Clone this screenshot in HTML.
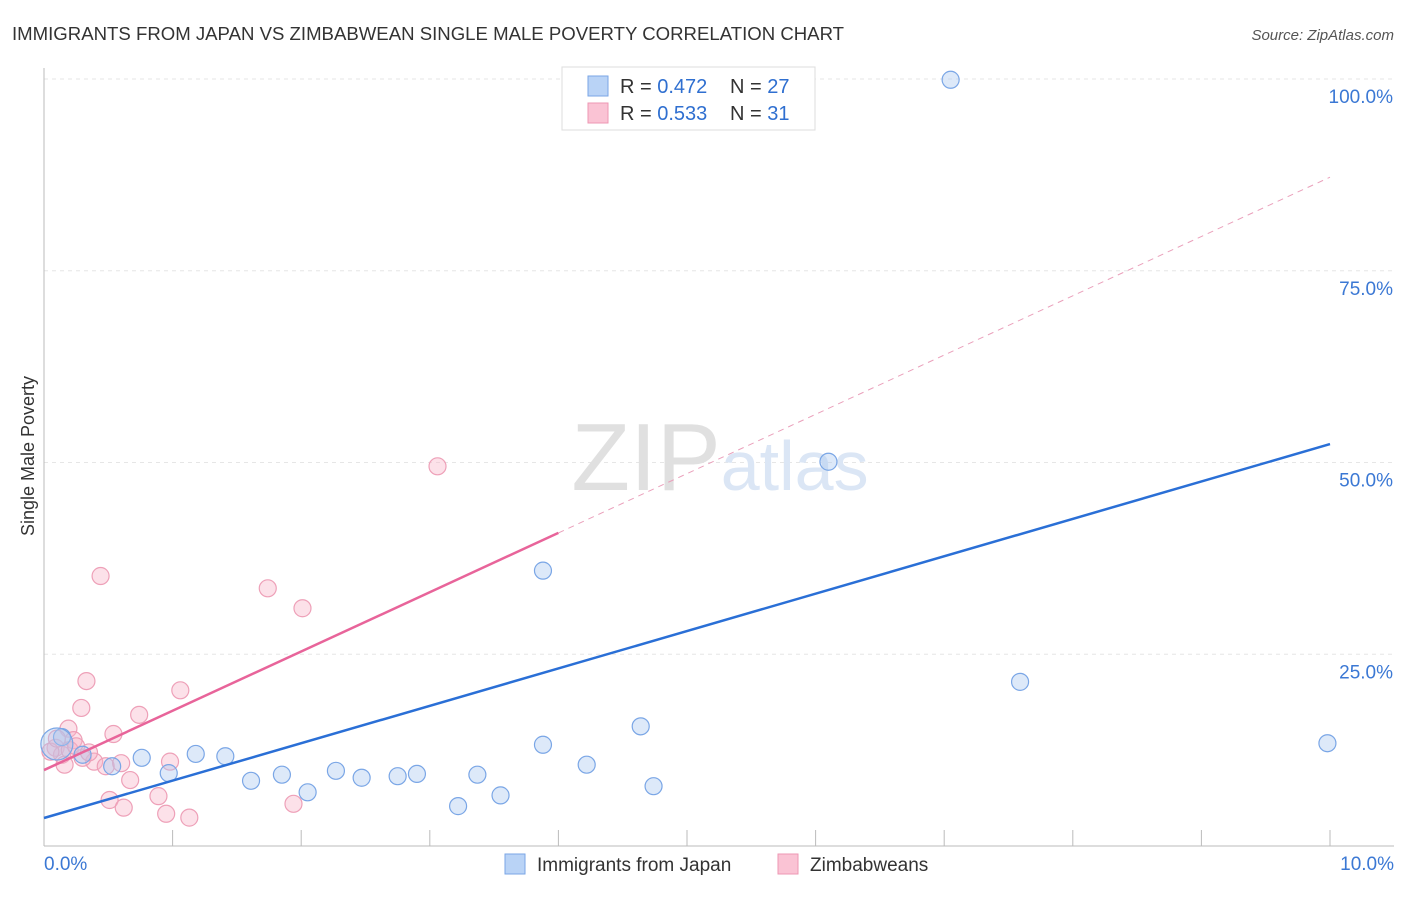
<!DOCTYPE html>
<html><head><meta charset="utf-8"><style>
body{margin:0;background:#fff;font-family:"Liberation Sans",sans-serif;}
svg text{font-family:"Liberation Sans",sans-serif;}
</style></head><body>
<svg id="chart" width="1406" height="892" xmlns="http://www.w3.org/2000/svg">
<text x="12" y="40" font-size="18.6" fill="#333">IMMIGRANTS FROM JAPAN VS ZIMBABWEAN SINGLE MALE POVERTY CORRELATION CHART</text>
<text x="1394" y="40" font-size="15" fill="#555" font-style="italic" text-anchor="end">Source: ZipAtlas.com</text>
<text x="34" y="456" font-size="18" fill="#333" transform="rotate(-90 34 456)" text-anchor="middle">Single Male Poverty</text>
<g id="grid"></g>
<g id="axes"></g>
<text x="720" y="490" font-size="96" fill="#e3e3e3" text-anchor="middle" font-family="Liberation Serif"><tspan fill="#e0e0e0">ZIP</tspan><tspan fill="#dbe6f5" font-family="Liberation Sans" font-size="70">atlas</tspan></text>
<g id="pts"></g>
<g id="lines"></g>
<g>
<rect x="562" y="67" width="253" height="63" fill="#fff" stroke="#ddd"/>
<rect x="588" y="76" width="20" height="20" fill="#b9d3f6" stroke="#7aa6e6"/>
<rect x="588" y="103" width="20" height="20" fill="#fac3d4" stroke="#ee97b3"/>
<text x="620" y="93" font-size="20" fill="#333">R = <tspan fill="#2f6fd0">0.472</tspan></text>
<text x="730" y="93" font-size="20" fill="#333">N = <tspan fill="#2f6fd0">27</tspan></text>
<text x="620" y="120" font-size="20" fill="#333">R = <tspan fill="#2f6fd0">0.533</tspan></text>
<text x="730" y="120" font-size="20" fill="#333">N = <tspan fill="#2f6fd0"> 31</tspan></text>
</g>
<g>
<rect x="505" y="854" width="20" height="20" fill="#b9d3f6" stroke="#7aa6e6"/>
<text x="537" y="871" font-size="19" fill="#333">Immigrants from Japan</text>
<rect x="778" y="854" width="20" height="20" fill="#fac3d4" stroke="#ee97b3"/>
<text x="810" y="871" font-size="19" fill="#333">Zimbabweans</text>
</g>
</svg>
<script>
const yTicks=[25,50,75,100];
const yTickLabels=["25.0%","50.0%","75.0%","100.0%"];
const xTickLabels=["0.0%","10.0%"];
const japanX=[7.05,5.715,6.10,3.88,7.59,9.98,4.64,3.88,4.22,4.74,3.37,3.55,3.22,2.90,2.75,2.47,2.27,2.05,1.85,1.61,1.41,1.18,0.97,0.76,0.53,0.30,0.14,0.10];
const japanY=[99.9,99.9,50.1,35.9,21.4,13.4,15.6,13.2,10.6,7.8,9.3,6.6,5.2,9.4,9.1,8.9,9.8,7.0,9.3,8.5,11.7,12.0,9.5,11.5,10.4,11.9,14.2,13.3];
const zimX=[3.06,0.44,1.74,2.01,0.33,1.06,0.29,0.74,0.19,0.54,0.23,0.09,0.14,0.39,0.48,0.16,0.98,0.67,0.51,0.62,0.89,0.95,1.13,1.94,0.05,0.20,0.30,0.60,0.10,0.25,0.35];
const zimY=[49.5,35.2,33.6,31.0,21.5,20.3,18.0,17.1,15.3,14.6,13.8,12.8,11.9,11.0,10.4,10.6,11.0,8.6,6.0,5.0,6.5,4.2,3.7,5.5,12.3,12.5,11.5,10.8,14.0,13.0,12.2];
const japanLine=[3.65,52.4];
const zimLine=[9.9,87.2];
const zimSolidEnd=4.0;
const X=v=>44+v*128.6, Y=v=>846-v*7.67;
const NS="http://www.w3.org/2000/svg";
function mk(t,a,p){const e=document.createElementNS(NS,t);for(const k in a)e.setAttribute(k,a[k]);p.appendChild(e);return e;}
const grid=document.getElementById('grid'),axes=document.getElementById('axes'),pts=document.getElementById('pts'),lines=document.getElementById('lines');
yTicks.forEach((t,i)=>{
 const l=mk('line',{x1:44,x2:1394,y1:Y(t),y2:Y(t),stroke:'#e6e6e6','stroke-dasharray':'4,4'},grid);
 
 
 const tx=mk('text',{x:1393,y:Y(t)+24,'font-size':19,fill:'#3b78d4','text-anchor':'end'},axes);tx.textContent=yTickLabels[i];
 
 
});
mk('line',{x1:44,x2:44,y1:68,y2:846,stroke:'#bbb'},axes);
mk('line',{x1:44,x2:1394,y1:846,y2:846,stroke:'#bbb'},axes);
for(let i=1;i<=10;i++){const t=mk('line',{x1:X(i),x2:X(i),y1:830,y2:846,stroke:'#bbb'},axes);
 
 }
[[0,44,'start'],[10,1394,'end']].forEach((d,i)=>{const t=mk('text',{x:d[1],y:870,'font-size':19,fill:'#3b78d4','text-anchor':d[2]},axes);t.textContent=xTickLabels[i];
 
 });
zimX.forEach((x,i)=>{const c=mk('circle',{cx:X(x),cy:Y(zimY[i]),r:8.5,fill:'rgba(248,180,200,0.4)',stroke:'#eea0b8','stroke-width':1.2},pts);
 
 });
japanX.forEach((x,i)=>{const c=mk('circle',{cx:X(x),cy:Y(japanY[i]),r:(i==japanX.length-1?16:8.5),fill:'rgba(170,200,240,0.4)',stroke:'#7aa6e6','stroke-width':1.2},pts);
 
 });
const zl=v=>zimLine[0]+(zimLine[1]-zimLine[0])*v/10;
const jl=v=>japanLine[0]+(japanLine[1]-japanLine[0])*v/10;
let a=mk('line',{x1:X(0),y1:Y(jl(0)),x2:X(10),y2:Y(jl(10)),stroke:'#2a6fd6','stroke-width':2.5},lines);


a=mk('line',{x1:X(0),y1:Y(zl(0)),x2:X(zimSolidEnd),y2:Y(zl(zimSolidEnd)),stroke:'#e8649a','stroke-width':2.5},lines);


a=mk('line',{x1:X(zimSolidEnd),y1:Y(zl(zimSolidEnd)),x2:X(10),y2:Y(zl(10)),stroke:'#eaa0bb','stroke-width':1,'stroke-dasharray':'6,5'},lines);


</script>
</body></html>
